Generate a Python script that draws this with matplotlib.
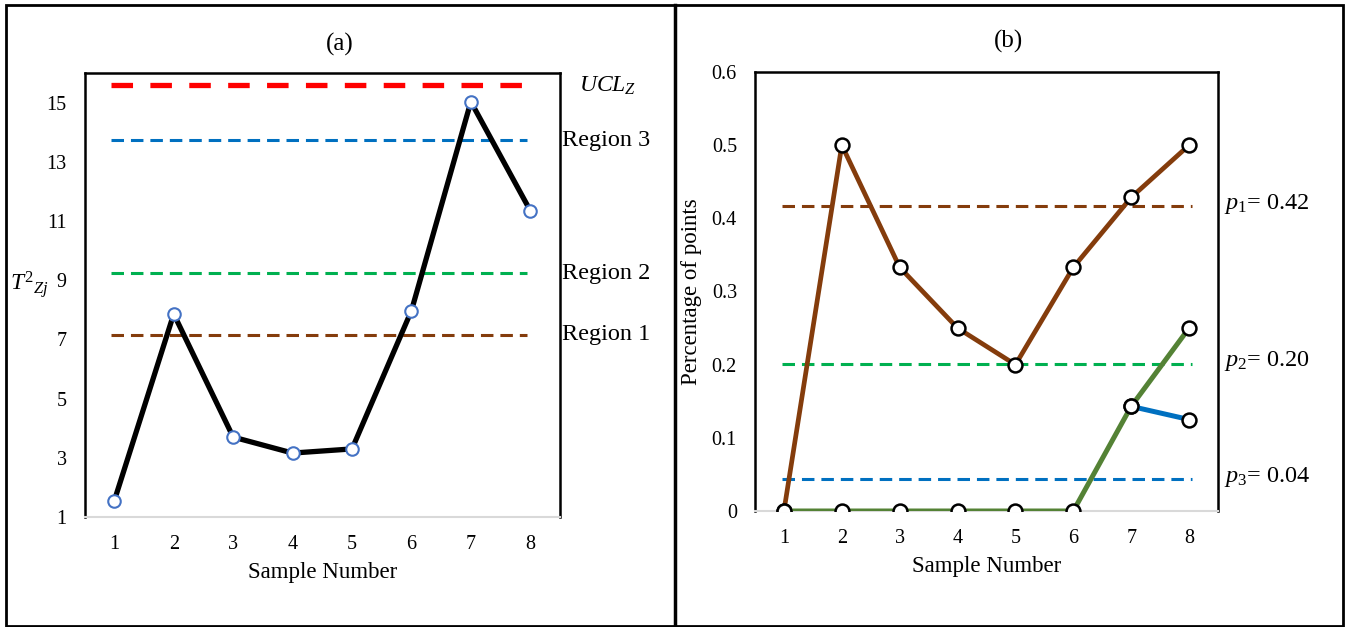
import matplotlib.pyplot as plt
import matplotlib.transforms as mtransforms
from matplotlib.lines import Line2D
import numpy as np

plt.rcParams['font.family'] = ['Liberation Serif', 'DejaVu Serif']
plt.rcParams['mathtext.fontset'] = 'custom'
plt.rcParams['mathtext.rm'] = 'Liberation Serif'
plt.rcParams['mathtext.it'] = 'Liberation Serif:italic'
plt.rcParams['lines.scale_dashes'] = False

# Данные, панель (a)
samples = [1, 2, 3, 4, 5, 6, 7, 8]
t2_values = [1.55, 7.86, 3.7, 3.16, 3.3, 7.97, 15.03, 11.35]
ucl_z = 15.6
region_limits = [13.72, 9.23, 7.15]          # Region 3, Region 2, Region 1
region_labels = ['Region 3', 'Region 2', 'Region 1']
region_colors = ['#0070C0', '#00B050', '#843C0C']
yticks_a = [1, 3, 5, 7, 9, 11, 13, 15]

# Данные, панель (b)
pct_p1 = [0, 0.5, 0.333, 0.25, 0.2, 0.333, 0.4286, 0.5]
pct_p2 = [0, 0, 0, 0, 0, 0, 0.143, 0.25]
pct_p3_x = [7, 8]
pct_p3 = [0.143, 0.125]
p_limits = [0.417, 0.2015, 0.0435]
p_labels = ['$p_{\\mathit{1}}$= 0.42', '$p_{\\mathit{2}}$= 0.20', '$p_{\\mathit{3}}$= 0.04']
p_colors = ['#843C0C', '#00B050', '#0070C0']
yticks_b = [0, 0.1, 0.2, 0.3, 0.4, 0.5, 0.6]

fig = plt.figure(figsize=(13.48, 6.27), dpi=100)

# рамки панелей
W, H = 1348, 627
fig.add_artist(plt.Rectangle((6 / W, 1 - 626 / H), (1343 - 6) / W, (626 - 5) / H,
                             transform=fig.transFigure, fill=False, lw=2, ec='black'))
fig.add_artist(Line2D([675 / W, 675 / W], [1 - 626 / H, 1 - 5 / H],
                      transform=fig.transFigure, lw=2.5, color='black'))

ax1 = fig.add_axes([84.6 / W, 1 - 517 / H, (560 - 84.6) / W, (517 - 73) / H])
ax2 = fig.add_axes([755 / W, 1 - 511 / H, (1218 - 755) / W, (511 - 72) / H])

dash_small = (9, 5)

# --- (a) ---
ax1.hlines(ucl_z, 0.95, 7.95, color='#FF0000', lw=3.8, linestyles=(0, (15.5, 12.5)), zorder=2)
for val, c in zip(region_limits, region_colors):
    ax1.hlines(val, 0.95, 7.95, color=c, lw=2.2, linestyles=(0, dash_small), zorder=2)
ax1.plot(samples, t2_values, color='black', lw=3.8, marker='o', ms=9,
         mfc='white', mec='#4472C4', mew=1.5, zorder=3)
ax1.set_xlim(0.5, 8.5)
ax1.set_ylim(1, 16)
ax1.set_yticks(yticks_a)
ax1.set_xticks(samples)

trans1 = mtransforms.blended_transform_factory(ax1.transAxes, ax1.transData)
ax1.text(1.1, ucl_z - 0.05, '$UCL_Z$', transform=trans1, fontsize=17, ha='center', va='center')
for val, lab in zip(region_limits, region_labels):
    ax1.text(1.005, val, lab, transform=trans1, fontsize=17.5, ha='left', va='center')
ax1.text(0.536, 1.065, '(a)', transform=ax1.transAxes, fontsize=18, ha='center', va='center')
ax1.set_xlabel('Sample Number', fontsize=16.5, labelpad=6)
fig.text(29 / W, 1 - 284 / H, '$T^{2}{}_{Zj}$', fontsize=17, ha='center', va='center')

# --- (b) ---
for val, c in zip(p_limits, p_colors):
    ax2.hlines(val, 0.97, 8.05, color=c, lw=2.2, linestyles=(0, dash_small), zorder=2)
mk = dict(marker='o', ms=10, mfc='white', mec='black', mew=1.8)
ax2.plot(samples, pct_p1, color='#843C0C', lw=3.4, zorder=3, **mk)
ax2.plot(samples, pct_p2, color='#548235', lw=3.6, zorder=4, **mk)
ax2.plot(pct_p3_x, pct_p3, color='#0070C0', lw=3.6, zorder=5, **mk)
ax2.set_xlim(0.5, 8.5)
ax2.set_ylim(0, 0.6)
ax2.set_yticks(yticks_b)
ax2.set_yticklabels(['0'] + [f'{v:.1f}' for v in yticks_b[1:]])
ax2.set_xticks(samples)

trans2 = mtransforms.blended_transform_factory(ax2.transAxes, ax2.transData)
for val, lab in zip(p_limits, p_labels):
    ax2.text(1.014, val + 0.003, lab, transform=trans2, fontsize=17.5, ha='left', va='center')
ax2.text(0.547, 1.07, '(b)', transform=ax2.transAxes, fontsize=18, ha='center', va='center')
ax2.set_xlabel('Sample Number', fontsize=16.5, labelpad=6)
ax2.set_ylabel('Percentage of points', fontsize=16.5)
ax2.yaxis.set_label_coords(-0.114, 0.5)

for ax in (ax1, ax2):
    ax.tick_params(length=0, labelsize=14.5)
    ax.tick_params(axis='x', pad=13)
    ax.tick_params(axis='y', pad=13)
    for s in ('left', 'top', 'right'):
        ax.spines[s].set_color('black')
        ax.spines[s].set_linewidth(1.8)
    ax.spines['bottom'].set_color('#D9D9D9')
    ax.spines['bottom'].set_linewidth(1.5)

plt.savefig('out.png', dpi=100)
